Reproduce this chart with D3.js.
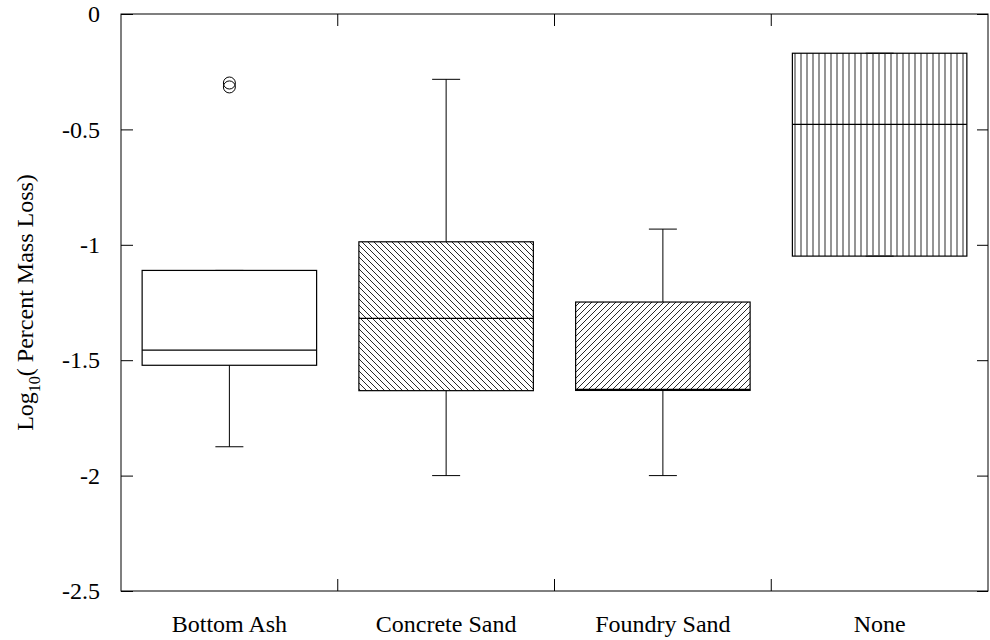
<!DOCTYPE html>
<html>
<head>
<meta charset="utf-8">
<script src="https://cdn.jsdelivr.net/npm/d3@7.9.0/dist/d3.min.js"></script>
<style>
  body { margin: 0; background: #fff; }
  svg text { font-family: "Liberation Serif", "Times New Roman", serif; fill: #000; }
</style>
</head>
<body>
<div id="chart"></div>
<script>
// box plot values
const categories = ["Bottom Ash", "Concrete Sand", "Foundry Sand", "None"];
const whiskerLow = [-1.875, -2.0, -2.0, -1.049];
const q1 = [-1.522, -1.632, -1.631, -1.049];
const median = [-1.456, -1.319, -1.626, -0.478];
const q3 = [-1.111, -0.987, -1.248, -0.170];
const whiskerHigh = [-1.111, -0.283, -0.932, -0.170];
const outliers = [[-0.299, -0.316], [], [], []];
const fills = ["none", "url(#hatchBack)", "url(#hatchFwd)", "url(#hatchVert)"];
const yTicks = [0, -0.5, -1, -1.5, -2, -2.5];

const width = 990, height = 640;
const margin = { top: 14, right: 2, bottom: 49, left: 121 };

const svg = d3.select("#chart").append("svg")
  .attr("width", width)
  .attr("height", height);

const defs = svg.append("defs");
function hatch(id, d, color, sw) {
  const p = defs.append("pattern")
    .attr("id", id)
    .attr("patternUnits", "userSpaceOnUse")
    .attr("width", 6)
    .attr("height", 6);
  p.append("path").attr("d", d).attr("stroke", color).attr("stroke-width", sw).attr("fill", "none");
}
hatch("hatchBack", "M-1,-1 L7,7 M-1,5 L1,7 M5,-1 L7,1", "#111", 0.9);
hatch("hatchFwd", "M-1,7 L7,-1 M-1,1 L1,-1 M5,7 L7,5", "#111", 0.9);
hatch("hatchVert", "M3,0 L3,6", "#7a7a7a", 1.6);

const x = d3.scaleBand()
  .domain(categories)
  .range([margin.left, width - margin.right]);
const y = d3.scaleLinear()
  .domain([-2.5, 0])
  .range([height - margin.bottom, margin.top]);

const x0 = margin.left, x1 = width - margin.right;
const yTop = margin.top, yBot = height - margin.bottom;

// frame
svg.append("rect")
  .attr("x", x0).attr("y", yTop)
  .attr("width", x1 - x0).attr("height", yBot - yTop)
  .attr("fill", "none").attr("stroke", "#000").attr("stroke-width", 1);

// left axis (inward ticks)
svg.append("g")
  .attr("transform", `translate(${x0},0)`)
  .call(d3.axisLeft(y).tickValues(yTicks).tickSizeInner(-12).tickSizeOuter(0).tickPadding(21)
    .tickFormat(d => d === 0 ? "0" : d3.format("")(d).replace("−", "-")))
  .call(g => g.select(".domain").remove())
  .call(g => g.selectAll("text").style("font-size", "24px").attr("fill", "#000"))
  .call(g => g.selectAll("line").attr("stroke", "#000"));

// right axis ticks
svg.append("g")
  .attr("transform", `translate(${x1},0)`)
  .call(d3.axisRight(y).tickValues(yTicks).tickSizeInner(-11).tickSizeOuter(0).tickFormat(""))
  .call(g => g.select(".domain").remove())
  .call(g => g.selectAll("line").attr("stroke", "#000"));

// category labels
svg.append("g")
  .attr("transform", `translate(0,${yBot})`)
  .call(d3.axisBottom(x).tickSize(0).tickPadding(24))
  .call(g => g.select(".domain").remove())
  .call(g => g.selectAll("text").style("font-size", "24px").attr("fill", "#000"));

// boundary ticks on bottom and top
const bounds = categories.slice(1).map(c => x(c));
svg.append("g").selectAll("line").data(bounds).join("line")
  .attr("x1", d => d).attr("x2", d => d)
  .attr("y1", yBot).attr("y2", yBot - 12)
  .attr("stroke", "#000");
svg.append("g").selectAll("line").data(bounds).join("line")
  .attr("x1", d => d).attr("x2", d => d)
  .attr("y1", yTop).attr("y2", yTop + 12)
  .attr("stroke", "#000");

// boxes
const bw = x.bandwidth() * 0.805;
const capW = 28;
const g = svg.append("g");
categories.forEach((c, i) => {
  const cx = x(c) + x.bandwidth() / 2;
  // whiskers
  g.append("line")
    .attr("x1", cx).attr("x2", cx)
    .attr("y1", y(whiskerHigh[i])).attr("y2", y(q3[i]))
    .attr("stroke", "#000");
  g.append("line")
    .attr("x1", cx).attr("x2", cx)
    .attr("y1", y(q1[i])).attr("y2", y(whiskerLow[i]))
    .attr("stroke", "#000");
  [whiskerHigh[i], whiskerLow[i]].forEach(v => {
    g.append("line")
      .attr("x1", cx - capW / 2).attr("x2", cx + capW / 2)
      .attr("y1", y(v)).attr("y2", y(v))
      .attr("stroke", "#000");
  });
  // box
  g.append("rect")
    .attr("x", cx - bw / 2)
    .attr("y", y(q3[i]))
    .attr("width", bw)
    .attr("height", y(q1[i]) - y(q3[i]))
    .attr("fill", fills[i])
    .attr("stroke", "#000")
    .attr("stroke-width", 1.2);
  g.append("line")
    .attr("x1", cx - bw / 2).attr("x2", cx + bw / 2)
    .attr("y1", y(median[i])).attr("y2", y(median[i]))
    .attr("stroke", "#000").attr("stroke-width", 1.2);
  // outliers
  g.selectAll(null).data(outliers[i]).join("circle")
    .attr("cx", cx)
    .attr("cy", d => y(d))
    .attr("r", 6)
    .attr("fill", "none")
    .attr("stroke", "#000");
});

// y label
const yl = svg.append("text")
  .attr("transform", `translate(33,${(yTop + yBot) / 2}) rotate(-90)`)
  .attr("text-anchor", "middle")
  .style("font-size", "24px");
yl.append("tspan").text("Log");
yl.append("tspan").attr("dy", 7).style("font-size", "16px").text("10");
yl.append("tspan").attr("dy", -7).text("( Percent Mass Loss)");
</script>
</body>
</html>
